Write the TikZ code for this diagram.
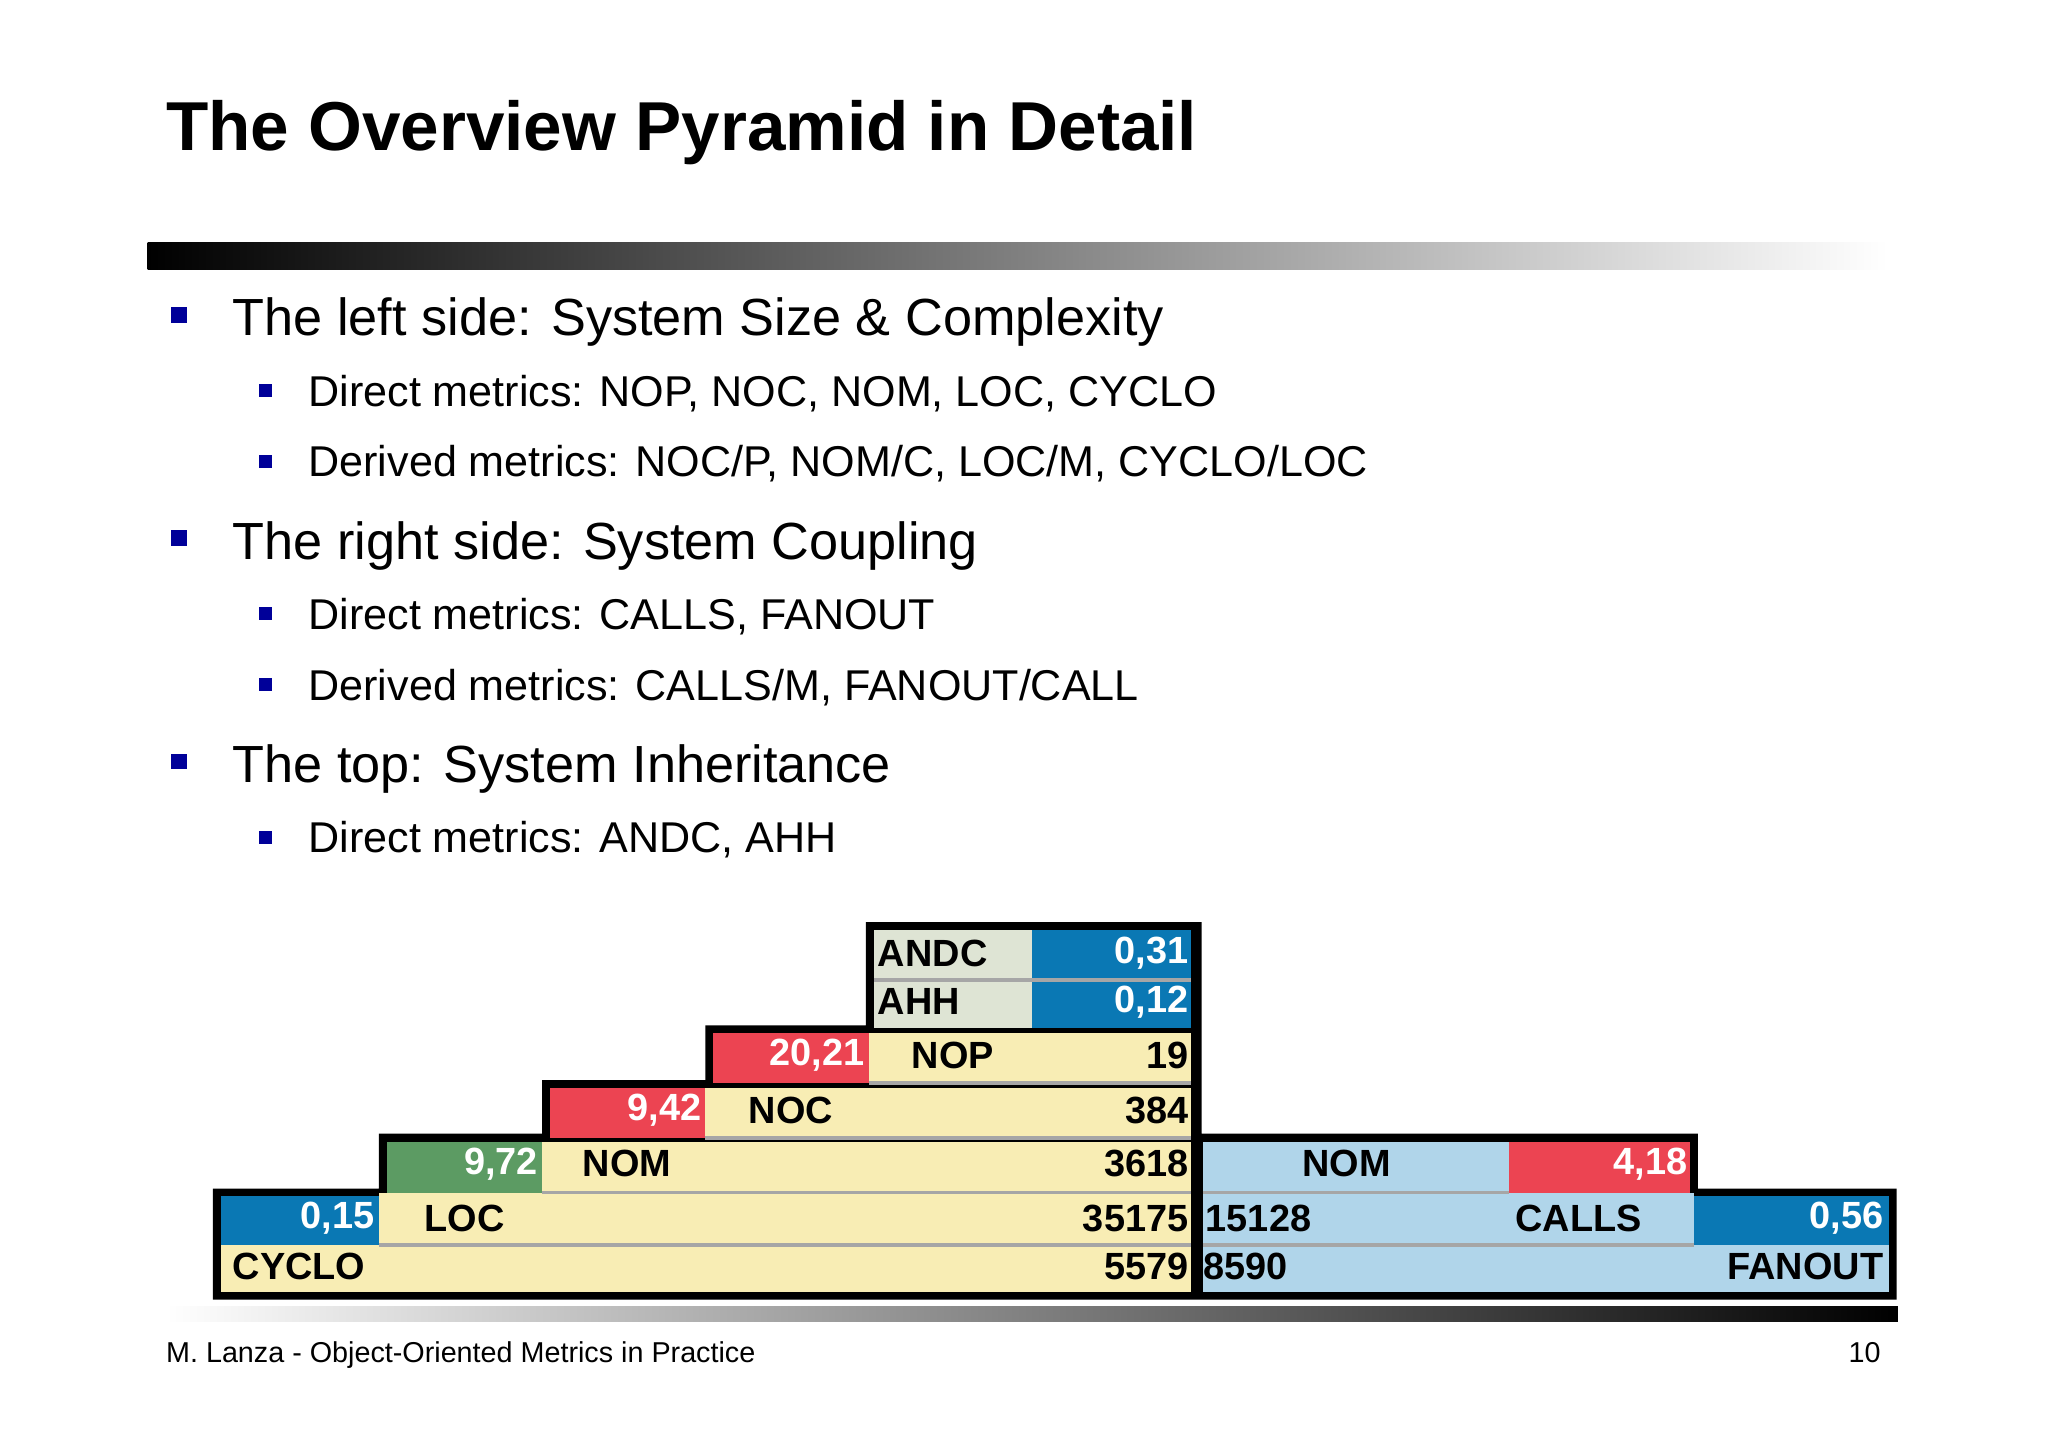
\documentclass[tikz,border=0pt]{standalone}
\usepackage{fontspec}
\setmainfont{Liberation Sans}
\begin{document}
\begin{tikzpicture}[x=1pt,y=-1pt,
  fs/.style={font=\fontsize{#1}{#1}\selectfont},
  bul/.style={fill=blue!60!black,minimum size=12pt,inner sep=0pt},
  sbul/.style={fill=blue!60!black,minimum size=10pt,inner sep=0pt},
  ltxt/.style={anchor=base west,inner sep=0pt,fs=40},
  stxt/.style={anchor=base west,inner sep=0pt,fs=33},
  pl/.style={anchor=west,inner sep=0pt,font=\bfseries\fontsize{29}{29}\selectfont,yshift=1pt},
  pr/.style={anchor=east,inner sep=0pt,font=\bfseries\fontsize{29}{29}\selectfont,yshift=1pt},
  pw/.style={pr,text=white},
  sep/.style={draw=black!35,line width=3pt}]
\definecolor{yel}{HTML}{F8EDB4}
\definecolor{lbl}{HTML}{B0D5EA}
\definecolor{dbl}{HTML}{0A78B4}
\definecolor{rd}{HTML}{EC4452}
\definecolor{gr}{HTML}{5C9B63}
\definecolor{gg}{HTML}{DEE4D4}
\useasboundingbox[fill=white] (0,0) rectangle (1568,1108);
\node[anchor=base west,inner sep=0pt,font=\bfseries\fontsize{53}{53}\selectfont] (title) at (127,115) {The Overview Pyramid in Detail};
\shade[left color=black,right color=white] (113,186) rectangle (1445,206);
\shade[left color=white,right color=black] (127,1000) rectangle (1453,1012);
% bullets
\node[bul] (b1) at (137,241) {}; \node[ltxt] (t1) at (178,257) {The left side: System Size \& Complexity};
\node[sbul] (s1) at (203,299) {}; \node[stxt] (u1) at (236,311) {Direct metrics: NOP, NOC, NOM, LOC, CYCLO};
\node[sbul] (s2) at (203,353) {}; \node[stxt] (u2) at (236,365) {Derived metrics: NOC/P, NOM/C, LOC/M, CYCLO/LOC};
\node[bul] (b2) at (137,412) {}; \node[ltxt] (t2) at (178,428) {The right side: System Coupling};
\node[sbul] (s3) at (203,470) {}; \node[stxt] (u3) at (236,482) {Direct metrics: CALLS, FANOUT};
\node[sbul] (s4) at (203,524) {}; \node[stxt] (u4) at (236,536) {Derived metrics: CALLS/M, FANOUT/CALL};
\node[bul] (b3) at (137,583) {}; \node[ltxt] (t3) at (178,599) {The top: System Inheritance};
\node[sbul] (s5) at (203,641) {}; \node[stxt] (u5) at (236,653) {Direct metrics: ANDC, AHH};
% pyramid outline
\fill[black] (163,995)--(163,910)--(290,910)--(290,868)--(415,868)--(415,827)--(540,827)--(540,785)--(663,785)--(663,706)--(920,706)--(920,868)--(1300,868)--(1300,910)--(1452,910)--(1452,995)--cycle;
% cells
\fill[gg] (669,712) rectangle (790,787);
\fill[dbl] (790,712) rectangle (912,787);
\fill[rd] (546,791) rectangle (665,829);
\fill[yel] (665,791) rectangle (912,829);
\fill[rd] (421,833) rectangle (540,871);
\fill[yel] (540,833) rectangle (912,871);
\fill[gr] (296,874) rectangle (415,913);
\fill[yel] (415,874) rectangle (912,913);
\fill[lbl] (921,874) rectangle (1155,913);
\fill[rd] (1155,874) rectangle (1294,913);
\fill[dbl] (169,916) rectangle (290,953);
\fill[yel] (290,913) rectangle (912,953);
\fill[lbl] (921,913) rectangle (1297,953);
\fill[dbl] (1297,916) rectangle (1446,953);
\fill[yel] (169,953) rectangle (912,989);
\fill[lbl] (921,953) rectangle (1446,989);
\draw[sep] (669,750)--(912,750);
\draw[sep] (665,829)--(912,829);
\draw[sep] (540,871)--(912,871);
\draw[sep] (415,913)--(912,913) (921,913)--(1155,913);
\draw[sep] (290,953)--(912,953) (921,953)--(1297,953);
% labels
\node[pl] (andc) at (672,731) {ANDC}; \node[pw] (v1) at (910,731) {0,31};
\node[pl] (ahh) at (672,768) {AHH}; \node[pw] (v2) at (910,768) {0,12};
\node[pw] (v3) at (662,809) {20,21}; \node[pl] (nop) at (698,809) {NOP}; \node[pr] (n1) at (910,809) {19};
\node[pw] (v4) at (537,851) {9,42}; \node[pl] (noc) at (573,851) {NOC}; \node[pr] (n2) at (910,851) {384};
\node[pw] (v5) at (412,892) {9,72}; \node[pl] (nom) at (446,892) {NOM}; \node[pr] (n3) at (910,892) {3618};
\node[pl] (nom2) at (997,892) {NOM}; \node[pw] (v6) at (1292,892) {4,18};
\node[pw] (v7) at (287,934) {0,15}; \node[pl] (loc) at (325,934) {LOC}; \node[pr] (n4) at (910,934) {35175};
\node[pl] (n5) at (923,934) {15128}; \node[pl] (calls) at (1160,934) {CALLS}; \node[pw] (v8) at (1442,934) {0,56};
\node[pl] (cyclo) at (178,971) {CYCLO}; \node[pr] (n6) at (910,971) {5579};
\node[pl] (n7) at (921,971) {8590}; \node[pr] (fan) at (1442,971) {FANOUT};
% footer
\node[anchor=base west,inner sep=0pt,fs=22] (foot) at (127,1043) {M. Lanza - Object-Oriented Metrics in Practice};
\node[anchor=base east,inner sep=0pt,fs=22] (pg) at (1440,1043) {10};
\end{tikzpicture}
\end{document}
